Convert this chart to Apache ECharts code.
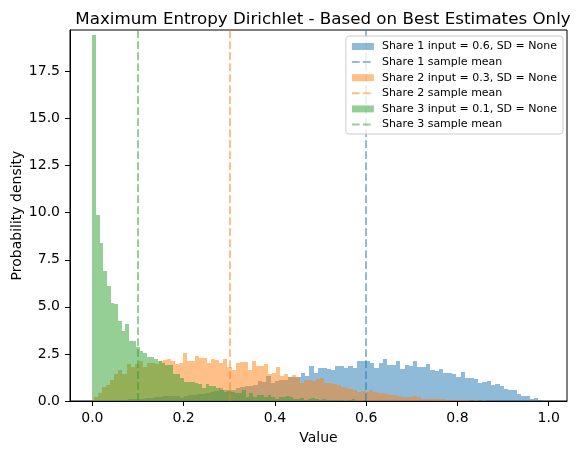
<!DOCTYPE html>
<html>
<head>
<meta charset="utf-8">
<script src="https://cdn.jsdelivr.net/npm/echarts@6/dist/echarts.min.js"></script>
<style>
  html, body { margin: 0; padding: 0; background: #fff; }
  #chart { width: 576px; height: 455px; }
</style>
</head>
<body>
<div id="chart"></div>
<script>
// histogram densities, 100 bins each
const share1Start = 0.04, share1Width = 0.00947
const share1Density = [
  0.02, 0.03, 0.05, 0.05, 0.08, 0.1, 0.12, 0.1, 0.15, 0.18, 0.2, 0.22, 0.25,
  0.28, 0.28, 0.25, 0.18, 0.28, 0.3, 0.34, 0.35, 0.36, 0.44, 0.47, 0.55, 0.68, 0.6, 0.59, 0.6, 0.7, 0.75,
  0.8, 0.8, 0.85, 1.05, 1.03, 1.33, 0.94, 1.04, 1.12, 1.12, 1.3, 1.3, 1.25,
  1.5, 1.35, 1.86, 1.47, 1.74, 1.77, 1.72, 1.65, 1.86, 1.86, 1.77, 1.86, 1.77, 2.13, 2.1, 2.13, 2.04,
  1.77, 2.04, 2.24, 1.92, 1.9, 2.13,
  1.7, 1.92, 1.86, 2.13, 1.81, 1.81, 1.97, 1.65, 1.6, 1.7, 1.47, 1.47, 1.44, 1.28, 1.55, 1.22, 1.22,
  1.17, 0.96, 1.01, 1.07, 0.85, 0.9, 0.8, 0.64, 0.59, 0.59, 0.37, 0.27, 0.27, 0.1, 0.16, 0.05
]

const share2Start = 0.004, share2Width = 0.00885
const share2Density = [
  0.23, 0.41, 0.76, 0.85, 1.12, 1.44, 1.65, 1.44, 1.97, 1.83, 1.97, 2.13, 1.83, 2.0, 2.04, 1.95, 2.1,
  2.2, 2.24, 2.1, 1.97, 2.04, 2.54, 2.13, 2.13, 2.4, 2.27, 2.27, 2.0, 2.24, 2.2, 2.04, 2.24, 1.83, 1.65, 2.0, 2.05,
  2.08, 1.65, 2.13, 1.86, 1.86, 1.97, 1.44, 1.51, 1.79, 1.33, 1.44, 1.3, 1.39,
  1.3, 0.95, 1.12, 1.12, 1.08, 1.15, 1.2, 0.98, 0.95, 0.9, 0.85, 0.76, 0.71, 0.62, 0.59, 0.5, 0.53,
  0.5, 0.59, 0.5, 0.4, 0.42, 0.35, 0.3, 0.3, 0.27,
  0.22, 0.2, 0.22, 0.28, 0.22, 0.11, 0.11, 0.11, 0.11, 0.08, 0.11, 0.06, 0.06, 0.06, 0.05, 0.03,
  0.04, 0.02, 0.03, 0.02, 0.03, 0.01, 0.02, 0.02
]

const share3Start = 0.0, share3Width = 0.008
const share3Density = [
  19.45, 9.9, 8.4, 6.9, 6.1, 5.2, 5.15, 4.26, 3.73, 4.08, 3.16, 3.2, 2.86, 2.66, 2.54, 2.33, 2.33, 2.22,
  2.15, 2.0, 1.92, 1.92, 1.44, 1.44, 1.22, 1.01, 1.01, 1.01, 0.95, 0.89, 0.71, 0.9, 0.8, 0.8, 0.68, 0.6,
  0.5, 0.55, 0.5, 0.45, 0.45,
  0.59, 0.23, 0.41, 0.23, 0.32, 0.32, 0.23, 0.32, 0.2, 0.1, 0.23, 0.2, 0.28, 0.2, 0.1, 0.1, 0.15, 0.05,
  0.1, 0.15, 0.1, 0.05,
  0.1, 0.05, 0.05, 0.05, 0.03, 0.07, 0.02, 0.03, 0.08, 0.02, 0.02, 0.03, 0.01, 0.02, 0.01, 0.02, 0.01,
  0.01, 0.02, 0.01, 0, 0.01, 0.01, 0.02, 0.02, 0.01, 0.02, 0.02, 0, 0.01, 0, 0.01, 0, 0.01, 0, 0, 0.01
]

const sampleMeans = [0.6, 0.3, 0.1]
const histNames = [
  'Share 1 input = 0.6, SD = None',
  'Share 2 input = 0.3, SD = None',
  'Share 3 input = 0.1, SD = None'
]
const meanNames = ['Share 1 sample mean', 'Share 2 sample mean', 'Share 3 sample mean']
const xTicks = [0, 0.2, 0.4, 0.6, 0.8, 1.0]
const yTicks = [0, 2.5, 5, 7.5, 10, 12.5, 15, 17.5]

const colors = ['31,119,180', '255,127,14', '44,160,44']
const FONT = 'DejaVu Sans'
const DASH = [7.7, 3.3]

function toBins(start, width, values) {
  return values.map((v, i) => [start + i * width, start + (i + 1) * width, v])
}

function renderHist(params, api) {
  const p0 = api.coord([api.value(0), api.value(2)])
  const p1 = api.coord([api.value(1), 0])
  const x0 = Math.round(p0[0]), x1 = Math.round(p1[0])
  const y0 = Math.round(p0[1]), y1 = Math.round(p1[1])
  return {
    type: 'rect',
    shape: { x: x0, y: y0, width: x1 - x0, height: y1 - y0 },
    style: { fill: api.visual('color') }
  }
}

const hists = [
  toBins(share1Start, share1Width, share1Density),
  toBins(share2Start, share2Width, share2Density),
  toBins(share3Start, share3Width, share3Density)
]

const series = []
const legendData = []
hists.forEach((bins, k) => {
  const rgba = 'rgba(' + colors[k] + ',0.5)'
  series.push({
    name: histNames[k],
    type: 'custom',
    renderItem: renderHist,
    data: bins,
    encode: { x: [0, 1], y: 2 },
    itemStyle: { color: rgba },
    clip: true,
    silent: true,
    z: 2
  })
  series.push({
    name: meanNames[k],
    type: 'line',
    data: [],
    symbol: 'none',
    itemStyle: { color: rgba },
    lineStyle: { color: rgba, width: 2, type: DASH },
    markLine: {
      silent: true,
      symbol: 'none',
      label: { show: false },
      animation: false,
      lineStyle: { color: rgba, width: 2, type: DASH },
      data: [{ xAxis: sampleMeans[k] }]
    },
    z: 3
  })
  legendData.push({ name: histNames[k], icon: 'rect' })
  legendData.push({
    name: meanNames[k],
    itemStyle: { color: 'transparent', borderColor: 'transparent', borderWidth: 0 },
    lineStyle: { color: rgba, width: 2, type: DASH }
  })
})

const chart = echarts.init(document.getElementById('chart'))
chart.setOption({
  animation: false,
  textStyle: { fontFamily: FONT },
  title: {
    text: 'Maximum Entropy Dirichlet - Based on Best Estimates Only',
    left: 318,
    top: 6,
    textAlign: 'center',
    textStyle: { fontFamily: FONT, fontSize: 16.7, fontWeight: 'normal', color: '#000' }
  },
  legend: {
    orient: 'vertical',
    right: 13,
    top: 36,
    selectedMode: false,
    data: legendData,
    itemWidth: 22,
    itemHeight: 7,
    itemGap: 4.6,
    textStyle: { fontFamily: FONT, fontSize: 11, lineHeight: 11, color: '#000', padding: [0, 0, 0, 3] },
    borderColor: '#cccccc',
    borderWidth: 1,
    borderRadius: 3,
    padding: [5, 6, 4, 5],
    backgroundColor: 'rgba(255,255,255,0.8)',
    z: 10
  },
  grid: {
    left: 70, right: 9, top: 30, bottom: 54,
    containLabel: false,
    outerBoundsMode: 'none',
    show: true, borderColor: '#000', borderWidth: 1, backgroundColor: 'transparent'
  },
  xAxis: {
    type: 'value',
    min: -0.049,
    max: 1.04,
    name: 'Value',
    nameLocation: 'middle',
    nameGap: 30,
    nameMoveOverlap: false,
    nameTextStyle: { fontFamily: FONT, fontSize: 14, color: '#000' },
    axisLine: { show: true, onZero: false, lineStyle: { color: '#000', width: 1 } },
    axisTick: { show: true, length: 5, lineStyle: { color: '#000' }, customValues: xTicks },
    axisLabel: {
      fontFamily: FONT, fontSize: 14, color: '#000', margin: 10,
      customValues: xTicks,
      formatter: v => v.toFixed(1)
    },
    splitLine: { show: false },
    z: 5
  },
  yAxis: {
    type: 'value',
    min: 0,
    max: 19.7,
    name: 'Probability density',
    nameLocation: 'middle',
    nameGap: 46,
    nameMoveOverlap: false,
    nameTextStyle: { fontFamily: FONT, fontSize: 14, color: '#000' },
    axisLine: { show: true, onZero: false, lineStyle: { color: '#000', width: 1 } },
    axisTick: { show: true, length: 5, lineStyle: { color: '#000' }, customValues: yTicks },
    axisLabel: {
      fontFamily: FONT, fontSize: 14, color: '#000', margin: 10,
      customValues: yTicks,
      formatter: v => v.toFixed(1)
    },
    splitLine: { show: false },
    z: 5
  },
  series: series
})
</script>
</body>
</html>
